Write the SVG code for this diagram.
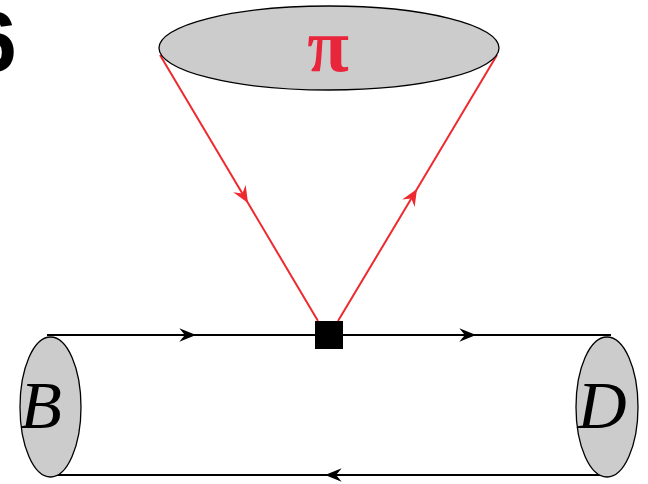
<svg xmlns="http://www.w3.org/2000/svg" width="648" height="484" viewBox="0 0 648 484">
<style>
.blob{fill:#cccccc;stroke:#000;stroke-width:1.3}
.red{stroke:#ee2a2f;stroke-width:2;fill:none}
.blk{stroke:#000;stroke-width:2;fill:none}
.lbl{font-family:"Liberation Serif",serif;font-style:italic;font-size:68px;fill:#000}
</style>
<defs>
<marker id="ra" markerUnits="userSpaceOnUse" markerWidth="20" markerHeight="20" viewBox="-16 -8 18 16" refX="0" refY="0" orient="auto"><path d="M0,0 L-15,-6.5 L-10,0 L-15,6.5 Z" fill="#ee2a2f"/></marker>
<marker id="ba" markerUnits="userSpaceOnUse" markerWidth="20" markerHeight="20" viewBox="-16 -8 18 16" refX="0" refY="0" orient="auto"><path d="M0,0 L-15,-6 L-10,0 L-15,6 Z" fill="#000"/></marker>
</defs>
<text x="-31" y="71" font-family="Liberation Sans,sans-serif" font-weight="bold" font-size="86">6</text>
<g id="connectors">
<path class="red" d="M160,55 L248,203 L318,321" marker-mid="url(#ra)"/>
<path class="red" d="M338,321 L417,189 L497,55" marker-mid="url(#ra)"/>
<path class="blk" d="M47,335 L196,335 L476,335 L611,335" marker-mid="url(#ba)"/>
<path class="blk" d="M611,475 L325,475 L47,475" marker-mid="url(#ba)"/>
</g>
<g id="pi">
<ellipse class="blob" cx="329" cy="48" rx="170" ry="42"/>
<text x="328" y="71" text-anchor="middle" font-family="Liberation Serif,serif" font-weight="bold" font-size="76" fill="#e8253a">π</text>
</g>
<g id="vertex"><rect x="315" y="321" width="28" height="28" fill="#000"/></g>
<g id="B">
<ellipse class="blob" cx="50.5" cy="407" rx="30.5" ry="70"/>
<text class="lbl" x="41" y="428" text-anchor="middle">B</text>
</g>
<g id="D">
<ellipse class="blob" cx="607" cy="407" rx="31" ry="70"/>
<text class="lbl" x="602" y="428" text-anchor="middle">D</text>
</g>
</svg>
